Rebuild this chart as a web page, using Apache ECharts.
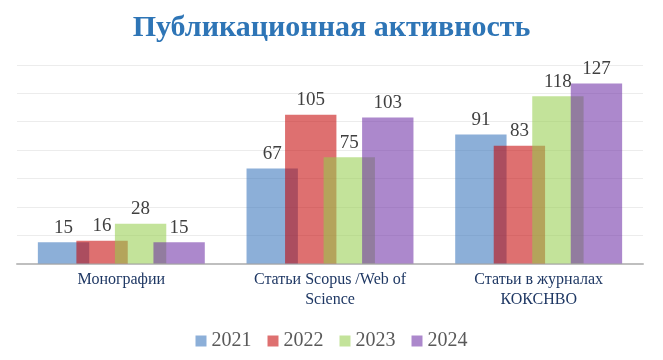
<!DOCTYPE html>
<html>
<head>
<meta charset="utf-8">
<script src="https://cdn.jsdelivr.net/npm/echarts@6/dist/echarts.min.js"></script>
<style>
html,body{margin:0;padding:0;background:#fff;}
#chart{width:663px;height:360px;}
</style>
</head>
<body>
<div id="chart"></div>
<script>
const categories = ['Монографии', 'Статьи Scopus /Web of\nScience', 'Статьи в журналах\nКОКСНВО'];
const years = ['2021', '2022', '2023', '2024'];
const values2021 = [15, 67, 91];
const values2022 = [16, 105, 83];
const values2023 = [28, 75, 118];
const values2024 = [15, 103, 127];
const colors = ['rgba(50,112,185,0.56)', 'rgba(196,0,0,0.56)', 'rgba(148,205,75,0.56)', 'rgba(107,42,164,0.56)'];
const yMin = 0, yMax = 140, yInterval = 20;

const seriesData = [values2021, values2022, values2023, values2024];
const serif = '"Liberation Serif", "Times New Roman", serif';

const chart = echarts.init(document.getElementById('chart'));
chart.setOption({
  animation: false,
  backgroundColor: '#fff',
  title: {
    text: 'Публикационная активность',
    left: 'center',
    top: 8,
    textStyle: { fontFamily: serif, fontWeight: 'bold', fontSize: 30, color: '#2E75B6' }
  },
  legend: {
    data: years,
    left: 'center',
    top: 326,
    icon: 'rect',
    itemWidth: 11,
    itemHeight: 11,
    itemGap: 16,
    textStyle: { fontFamily: serif, fontSize: 20, color: '#595959' }
  },
  grid: { left: 17, right: 20, top: 65, bottom: 96.5, containLabel: false },
  xAxis: {
    type: 'category',
    data: categories,
    axisLine: { lineStyle: { color: '#bfbfbf', width: 2 } },
    axisTick: { show: false },
    axisLabel: { fontFamily: serif, fontSize: 16, lineHeight: 20, color: '#1F3864', margin: 6, interval: 0 }
  },
  yAxis: {
    type: 'value',
    min: yMin, max: yMax, interval: yInterval,
    axisLabel: { show: false },
    axisLine: { show: false },
    axisTick: { show: false },
    splitLine: { lineStyle: { color: '#ececec', width: 1 } }
  },
  series: years.map((y, i) => ({
    name: y,
    type: 'bar',
    data: seriesData[i],
    barGap: '-25%',
    barCategoryGap: '20%',
    itemStyle: { color: colors[i] },
    label: { show: true, position: 'top', distance: 5, fontFamily: serif, fontSize: 19, color: '#404040' }
  }))
});
</script>
</body>
</html>
